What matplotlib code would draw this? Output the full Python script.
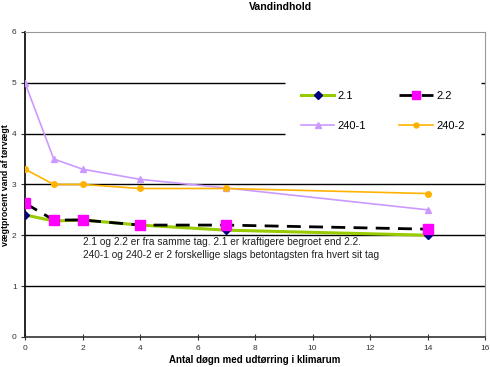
import matplotlib
matplotlib.use("Agg")
import matplotlib.pyplot as plt

plt.rcParams['font.family'] = ['Liberation Sans', 'DejaVu Sans']

days = [0, 1, 2, 4, 7, 14]
s21 = [2.4, 2.28, 2.3, 2.2, 2.1, 2.0]
s22 = [2.63, 2.3, 2.3, 2.2, 2.2, 2.12]
s2401 = [5.0, 3.5, 3.3, 3.1, 2.93, 2.5]
s2402 = [3.3, 3.0, 3.0, 2.92, 2.92, 2.82]

title = "Vandindhold"
xlabel = "Antal døgn med udtørring i klimarum"
ylabel = "vægtprocent vand af tørvægt"
note = ("2.1 og 2.2 er fra samme tag. 2.1 er kraftigere begroet end 2.2.\n"
        "240-1 og 240-2 er 2 forskellige slags betontagsten fra hvert sit tag")

fig = plt.figure(figsize=(4.9, 3.67), dpi=100)
ax = fig.add_axes([0.051, 0.082, 0.939, 0.831])

ax.set_xlim(0, 16)
ax.set_ylim(0, 6)
ax.set_xticks(range(0, 17, 2))
ax.set_yticks(range(0, 7))

# gridlines (4 and 5 hidden behind legend area)
for yv in [1, 2, 3]:
    ax.axhline(yv, color='black', lw=1.0, zorder=1)
for yv in [4, 5]:
    ax.hlines(yv, 0, 9.05, color='black', lw=1.0, zorder=1)
    ax.hlines(yv, 15.85, 16, color='black', lw=1.0, zorder=1)

ax.plot(days, s2401, color='#cc99ff', lw=1.2, marker='^', ms=4.5,
        markerfacecolor='#cc99ff', markeredgecolor='#cc99ff', label='240-1', zorder=3)
ax.plot(days, s2402, color='#ffb300', lw=1.2, marker='o', ms=4,
        markerfacecolor='#ffb300', markeredgecolor='#ffb300', label='240-2', zorder=3)
ax.plot(days, s21, color='#99cc00', lw=2.2, marker='D', ms=4.5,
        markerfacecolor='#000080', markeredgecolor='#000080', label='2.1', zorder=4)
ax.plot(days, s22, color='black', lw=2.0, ls=(0, (5, 3)), marker='s', ms=7,
        markerfacecolor='#ff00ff', markeredgecolor='#ff00ff', label='2.2', zorder=5)

handles, labels = ax.get_legend_handles_labels()
order = [2, 0, 3, 1]  # column-major fill: row1 = 2.1, 2.2 ; row2 = 240-1, 240-2
leg = ax.legend([handles[i] for i in order], [labels[i] for i in order],
                ncol=2, frameon=False, loc='upper left',
                bbox_to_anchor=(0.578, 0.838), fontsize=8,
                handlelength=3.0, columnspacing=3.0, labelspacing=1.8,
                handletextpad=0.3, markerscale=0.9)

ax.text(2.0, 1.97, note, fontsize=7.3, color='#222222', va='top', ha='left',
        linespacing=1.45)

for side in ['top', 'right']:
    ax.spines[side].set_color('#999999')
ax.spines['left'].set_color('black')
ax.spines['bottom'].set_color('#333333')
ax.spines['left'].set_linewidth(1.2)
ax.spines['bottom'].set_linewidth(1.2)

ax.tick_params(axis='both', labelsize=6, colors='#333333', length=3, width=0.8)
ax.tick_params(axis='x', direction='inout', length=4, pad=4)
ax.tick_params(axis='y', pad=3)

fig.text(280 / 490, 1 - 6.5 / 367, title, fontsize=7.6, fontweight='bold',
         ha='center', va='center')
ax.set_xlabel(xlabel, fontsize=7, fontweight='bold', labelpad=2)
fig.text(6 / 490, 1 - 185 / 367, ylabel, fontsize=6.3, fontweight='bold',
         rotation=90, ha='center', va='center')

fig.savefig('out.png', dpi=100)
